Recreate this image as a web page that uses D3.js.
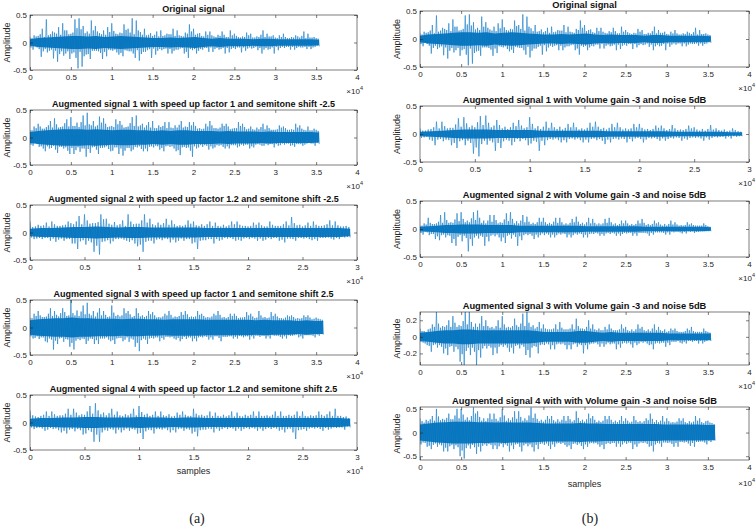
<!DOCTYPE html>
<html><head><meta charset="utf-8">
<script src="https://cdn.jsdelivr.net/npm/d3@7/dist/d3.min.js"></script>
<style>body{margin:0;background:#fff}svg{display:block}</style>
</head><body><svg id="c" width="756" height="528"></svg>
<script>
// ---------- data ----------
// Per 500-sample block: largest positive peak (Hi), largest negative peak (Lo),
// secondary positive / negative spikes (InHi / InLo); dense core half-width every 1000 samples (Core).
const STEP = 500;

const titlesA = [
  "Original signal",
  "Augmented signal 1 with speed up factor 1 and semitone shift -2.5",
  "Augmented signal 2 with speed up factor 1.2 and semitone shift -2.5",
  "Augmented signal 3 with speed up factor 1 and semitone shift 2.5",
  "Augmented signal 4  with speed up factor 1.2 and semitone shift 2.5"
];
const titlesB = [
  "Original signal",
  "Augmented signal 1 with Volume gain -3 and noise 5dB",
  "Augmented signal 2 with Volume gain -3 and noise 5dB",
  "Augmented signal 3 with Volume gain -3 and noise 5dB",
  "Augmented signal 4 with with Volume gain -3 and noise 5dB"
];
const xTicks4 = [0,0.5,1,1.5,2,2.5,3,3.5,4];   // x 10^4 samples
const xTicks3 = [0,0.5,1,1.5,2,2.5,3];
const yTicksHalf = [-0.5,0,0.5];
const yTicksSmall = [-0.2,0,0.2];
const panelLabels = ["(a)","(b)"];

const origHi = [0.10,0.13,0.12,0.25,0.42,0.15,0.18,0.28,0.35,0.22,0.16,0.42,0.44,0.30,0.20,0.40,0.30,0.17,0.22,0.28,0.35,0.16,0.18,0.33,0.25,0.44,0.40,0.19,0.25,0.14,0.12,0.20,0.22,0.13,0.15,0.25,0.22,0.12,0.18,0.33,0.25,0.16,0.12,0.20,0.20,0.11,0.14,0.20,0.10,0.22,0.16,0.10,0.11,0.18,0.16,0.09,0.10,0.22,0.16,0.11,0.09,0.13,0.16,0.08,0.10,0.13,0.09,0.20,0.16,0.09,0.08];
const origLo = [-0.13,-0.09,-0.26,-0.12,-0.15,-0.29,-0.35,-0.16,-0.20,-0.30,-0.18,-0.47,-0.44,-0.22,-0.30,-0.15,-0.16,-0.30,-0.25,-0.14,-0.13,-0.22,-0.25,-0.15,-0.16,-0.28,-0.33,-0.17,-0.14,-0.28,-0.22,-0.12,-0.12,-0.20,-0.20,-0.13,-0.11,-0.20,-0.28,-0.14,-0.20,-0.12,-0.10,-0.17,-0.17,-0.10,-0.12,-0.20,-0.18,-0.10,-0.09,-0.18,-0.15,-0.09,-0.10,-0.14,-0.20,-0.10,-0.12,-0.20,-0.14,-0.08,-0.08,-0.13,-0.13,-0.08,-0.09,-0.12,-0.12,-0.08,-0.07];
const origInHi = [0.08,0.11,0.15,0.10,0.13,0.20,0.16,0.14,0.22,0.15,0.18,0.26,0.24,0.17,0.16,0.22,0.20,0.15,0.14,0.19,0.21,0.15,0.17,0.23,0.18,0.15,0.22,0.14,0.13,0.17,0.14,0.11,0.12,0.16,0.15,0.12,0.13,0.11,0.16,0.20,0.14,0.17,0.11,0.14,0.13,0.10,0.12,0.14,0.10,0.13,0.12,0.09,0.10,0.13,0.09,0.11,0.14,0.10,0.11,0.13,0.08,0.10,0.10,0.08,0.09,0.11,0.12,0.08,0.09,0.10,0.07];
const origInLo = [-0.09,-0.07,-0.12,-0.16,-0.18,-0.13,-0.15,-0.21,-0.24,-0.16,-0.20,-0.28,-0.17,-0.25,-0.21,-0.15,-0.15,-0.19,-0.17,-0.13,-0.15,-0.18,-0.19,-0.14,-0.16,-0.20,-0.14,-0.21,-0.17,-0.12,-0.11,-0.15,-0.14,-0.11,-0.12,-0.15,-0.13,-0.10,-0.17,-0.12,-0.12,-0.15,-0.13,-0.10,-0.09,-0.12,-0.13,-0.10,-0.10,-0.12,-0.12,-0.09,-0.09,-0.11,-0.11,-0.08,-0.10,-0.13,-0.13,-0.09,-0.08,-0.10,-0.10,-0.08,-0.08,-0.10,-0.09,-0.08,-0.08,-0.09,-0.06];
const origCore = [0.06,0.08,0.09,0.10,0.11,0.12,0.12,0.11,0.12,0.10,0.11,0.12,0.11,0.10,0.09,0.08,0.08,0.09,0.08,0.09,0.10,0.08,0.07,0.08,0.07,0.07,0.07,0.06,0.07,0.07,0.06,0.06,0.06,0.06,0.06,0.05];

const a1Hi = [0.14,0.20,0.25,0.16,0.19,0.30,0.35,0.18,0.20,0.33,0.37,0.21,0.19,0.40,0.45,0.22,0.20,0.38,0.35,0.19,0.21,0.33,0.30,0.18,0.20,0.37,0.40,0.22,0.18,0.28,0.30,0.17,0.19,0.28,0.28,0.17,0.18,0.30,0.20,0.28,0.28,0.16,0.15,0.25,0.30,0.17,0.16,0.25,0.25,0.15,0.17,0.28,0.25,0.15,0.20,0.14,0.15,0.25,0.22,0.14,0.14,0.22,0.20,0.14,0.15,0.25,0.22,0.14,0.20,0.13,0.14];
const a1Lo = [-0.15,-0.12,-0.16,-0.25,-0.20,-0.15,-0.28,-0.17,-0.18,-0.30,-0.30,-0.18,-0.20,-0.35,-0.28,-0.17,-0.30,-0.19,-0.16,-0.25,-0.18,-0.30,-0.33,-0.19,-0.25,-0.17,-0.16,-0.25,-0.25,-0.16,-0.15,-0.22,-0.25,-0.15,-0.16,-0.25,-0.32,-0.17,-0.18,-0.35,-0.20,-0.14,-0.14,-0.22,-0.20,-0.14,-0.14,-0.20,-0.20,-0.14,-0.18,-0.13,-0.13,-0.20,-0.18,-0.12,-0.15,-0.12,-0.12,-0.18,-0.15,-0.11,-0.11,-0.15,-0.17,-0.12,-0.15,-0.11,-0.11,-0.15,-0.12];
const a1InHi = [0.13,0.17,0.20,0.16,0.22,0.18,0.24,0.19,0.26,0.20,0.21,0.27,0.28,0.22,0.24,0.30,0.22,0.27,0.25,0.20,0.19,0.24,0.23,0.19,0.26,0.21,0.20,0.25,0.22,0.18,0.17,0.22,0.21,0.17,0.18,0.22,0.23,0.18,0.19,0.22,0.21,0.17,0.16,0.20,0.22,0.17,0.18,0.21,0.20,0.16,0.17,0.21,0.19,0.16,0.15,0.18,0.19,0.15,0.17,0.14,0.15,0.18,0.17,0.14,0.14,0.18,0.16,0.13,0.13,0.16,0.12];
const a1InLo = [-0.13,-0.10,-0.17,-0.20,-0.16,-0.19,-0.22,-0.17,-0.20,-0.24,-0.19,-0.23,-0.26,-0.20,-0.21,-0.18,-0.22,-0.19,-0.18,-0.21,-0.24,-0.18,-0.20,-0.24,-0.19,-0.22,-0.18,-0.21,-0.20,-0.17,-0.18,-0.16,-0.19,-0.16,-0.17,-0.20,-0.23,-0.18,-0.19,-0.24,-0.16,-0.18,-0.17,-0.15,-0.16,-0.18,-0.15,-0.17,-0.16,-0.14,-0.14,-0.16,-0.15,-0.13,-0.16,-0.13,-0.13,-0.15,-0.14,-0.12,-0.12,-0.14,-0.13,-0.11,-0.14,-0.12,-0.12,-0.13,-0.10,-0.11,-0.10];
const a1Core = [0.10,0.12,0.13,0.14,0.15,0.15,0.15,0.14,0.15,0.14,0.13,0.14,0.14,0.13,0.13,0.12,0.13,0.12,0.13,0.13,0.12,0.12,0.12,0.11,0.12,0.11,0.11,0.11,0.10,0.11,0.10,0.10,0.10,0.10,0.10,0.09];

const a2Hi = [0.20,0.11,0.12,0.18,0.20,0.12,0.13,0.20,0.15,0.30,0.33,0.16,0.17,0.33,0.25,0.14,0.13,0.22,0.33,0.15,0.16,0.33,0.25,0.13,0.14,0.25,0.22,0.12,0.12,0.22,0.20,0.12,0.12,0.20,0.18,0.11,0.11,0.20,0.20,0.12,0.11,0.18,0.18,0.11,0.20,0.12,0.12,0.20,0.28,0.13,0.11,0.18,0.20,0.12,0.13,0.22,0.20,0.11,0.12];
const a2Lo = [-0.12,-0.10,-0.10,-0.15,-0.17,-0.11,-0.12,-0.20,-0.30,-0.14,-0.15,-0.35,-0.40,-0.16,-0.20,-0.12,-0.11,-0.15,-0.14,-0.25,-0.35,-0.15,-0.20,-0.12,-0.11,-0.18,-0.18,-0.11,-0.12,-0.20,-0.30,-0.14,-0.12,-0.20,-0.15,-0.10,-0.10,-0.15,-0.15,-0.10,-0.10,-0.15,-0.15,-0.10,-0.10,-0.15,-0.18,-0.11,-0.15,-0.10,-0.10,-0.14,-0.15,-0.10,-0.09,-0.13,-0.12,-0.09,-0.09];
const a2InHi = [0.10,0.14,0.13,0.11,0.15,0.12,0.14,0.17,0.20,0.15,0.22,0.17,0.19,0.24,0.16,0.19,0.15,0.12,0.20,0.16,0.22,0.18,0.15,0.18,0.17,0.14,0.15,0.13,0.14,0.16,0.13,0.15,0.15,0.12,0.12,0.14,0.13,0.15,0.14,0.12,0.12,0.14,0.13,0.11,0.14,0.12,0.15,0.13,0.17,0.14,0.13,0.12,0.14,0.12,0.15,0.13,0.13,0.11,0.10];
const a2InLo = [-0.09,-0.11,-0.12,-0.10,-0.11,-0.13,-0.15,-0.12,-0.20,-0.16,-0.22,-0.18,-0.24,-0.17,-0.14,-0.16,-0.12,-0.13,-0.17,-0.20,-0.22,-0.17,-0.15,-0.13,-0.14,-0.12,-0.13,-0.15,-0.15,-0.12,-0.18,-0.15,-0.14,-0.12,-0.12,-0.13,-0.11,-0.12,-0.13,-0.11,-0.12,-0.11,-0.11,-0.13,-0.12,-0.10,-0.13,-0.11,-0.12,-0.10,-0.11,-0.12,-0.12,-0.10,-0.10,-0.11,-0.10,-0.08,-0.08];
const a2Core = [0.07,0.08,0.08,0.09,0.10,0.10,0.11,0.10,0.09,0.10,0.10,0.09,0.09,0.09,0.09,0.09,0.08,0.08,0.08,0.08,0.08,0.08,0.08,0.08,0.08,0.08,0.08,0.08,0.08,0.07];

const a3Hi = [0.18,0.25,0.30,0.19,0.20,0.35,0.30,0.20,0.35,0.21,0.50,0.22,0.21,0.40,0.45,0.22,0.20,0.35,0.30,0.19,0.40,0.21,0.20,0.35,0.30,0.19,0.35,0.20,0.19,0.30,0.28,0.18,0.18,0.25,0.30,0.18,0.19,0.28,0.30,0.19,0.19,0.30,0.25,0.18,0.18,0.25,0.30,0.18,0.17,0.25,0.25,0.17,0.18,0.28,0.25,0.17,0.30,0.18,0.17,0.28,0.25,0.17,0.16,0.22,0.22,0.16,0.16,0.22,0.22,0.15,0.18,0.15];
const a3Lo = [-0.20,-0.16,-0.18,-0.25,-0.20,-0.40,-0.30,-0.19,-0.21,-0.35,-0.40,-0.21,-0.20,-0.30,-0.20,-0.30,-0.30,-0.20,-0.18,-0.25,-0.30,-0.19,-0.25,-0.18,-0.20,-0.35,-0.43,-0.20,-0.30,-0.19,-0.18,-0.25,-0.22,-0.17,-0.17,-0.22,-0.25,-0.17,-0.18,-0.25,-0.25,-0.17,-0.16,-0.22,-0.22,-0.16,-0.25,-0.17,-0.16,-0.20,-0.20,-0.16,-0.16,-0.22,-0.20,-0.15,-0.15,-0.20,-0.20,-0.15,-0.15,-0.20,-0.20,-0.15,-0.14,-0.18,-0.20,-0.14,-0.14,-0.18,-0.15,-0.13];
const a3InHi = [0.17,0.21,0.22,0.19,0.25,0.21,0.23,0.26,0.28,0.22,0.26,0.31,0.29,0.24,0.25,0.30,0.27,0.22,0.23,0.20,0.27,0.23,0.22,0.26,0.24,0.21,0.26,0.22,0.21,0.24,0.22,0.19,0.20,0.22,0.23,0.20,0.21,0.23,0.24,0.20,0.20,0.23,0.21,0.19,0.20,0.22,0.23,0.19,0.19,0.21,0.21,0.18,0.19,0.22,0.20,0.18,0.22,0.19,0.18,0.21,0.20,0.17,0.18,0.20,0.19,0.17,0.17,0.19,0.18,0.16,0.16,0.14];
const a3InLo = [-0.16,-0.19,-0.21,-0.18,-0.27,-0.22,-0.24,-0.20,-0.26,-0.22,-0.28,-0.24,-0.23,-0.21,-0.24,-0.21,-0.23,-0.20,-0.20,-0.22,-0.23,-0.20,-0.19,-0.22,-0.26,-0.22,-0.28,-0.23,-0.22,-0.20,-0.20,-0.18,-0.19,-0.17,-0.18,-0.20,-0.19,-0.21,-0.21,-0.18,-0.20,-0.18,-0.18,-0.17,-0.18,-0.16,-0.19,-0.17,-0.17,-0.16,-0.17,-0.15,-0.18,-0.16,-0.16,-0.15,-0.17,-0.15,-0.16,-0.14,-0.15,-0.17,-0.16,-0.14,-0.15,-0.13,-0.16,-0.14,-0.14,-0.15,-0.13,-0.12];
const a3Core = [0.13,0.15,0.16,0.17,0.17,0.18,0.17,0.17,0.16,0.16,0.16,0.15,0.16,0.16,0.15,0.15,0.14,0.15,0.15,0.15,0.15,0.14,0.14,0.14,0.14,0.14,0.14,0.13,0.14,0.13,0.13,0.13,0.12,0.13,0.12,0.12];

const a4Hi = [0.22,0.11,0.12,0.20,0.20,0.12,0.13,0.25,0.25,0.13,0.14,0.30,0.35,0.15,0.13,0.25,0.20,0.12,0.13,0.25,0.30,0.14,0.12,0.20,0.20,0.12,0.11,0.18,0.20,0.12,0.25,0.13,0.12,0.20,0.18,0.11,0.11,0.20,0.18,0.11,0.12,0.20,0.20,0.12,0.11,0.20,0.20,0.12,0.12,0.20,0.20,0.11,0.12,0.20,0.12,0.20,0.25,0.12,0.11];
const a4Lo = [-0.12,-0.09,-0.15,-0.10,-0.11,-0.18,-0.20,-0.12,-0.12,-0.22,-0.14,-0.35,-0.35,-0.14,-0.12,-0.20,-0.18,-0.11,-0.12,-0.20,-0.30,-0.13,-0.20,-0.12,-0.11,-0.18,-0.18,-0.11,-0.12,-0.20,-0.25,-0.13,-0.11,-0.18,-0.15,-0.10,-0.10,-0.15,-0.15,-0.10,-0.10,-0.15,-0.15,-0.10,-0.10,-0.15,-0.18,-0.11,-0.30,-0.13,-0.15,-0.10,-0.10,-0.15,-0.13,-0.09,-0.09,-0.13,-0.09];
const a4InHi = [0.13,0.10,0.14,0.12,0.15,0.13,0.16,0.14,0.18,0.15,0.20,0.16,0.22,0.18,0.17,0.14,0.13,0.15,0.16,0.13,0.19,0.16,0.14,0.12,0.13,0.15,0.12,0.14,0.14,0.12,0.16,0.14,0.13,0.12,0.12,0.14,0.13,0.11,0.12,0.14,0.14,0.12,0.12,0.13,0.14,0.12,0.12,0.14,0.14,0.12,0.12,0.13,0.13,0.14,0.15,0.12,0.12,0.10,0.08];
const a4InLo = [-0.09,-0.10,-0.11,-0.13,-0.12,-0.14,-0.15,-0.13,-0.16,-0.14,-0.20,-0.17,-0.22,-0.18,-0.15,-0.13,-0.13,-0.14,-0.15,-0.13,-0.19,-0.16,-0.14,-0.12,-0.13,-0.14,-0.14,-0.12,-0.15,-0.13,-0.17,-0.14,-0.13,-0.12,-0.11,-0.12,-0.12,-0.11,-0.11,-0.12,-0.12,-0.11,-0.11,-0.12,-0.12,-0.11,-0.13,-0.12,-0.18,-0.14,-0.12,-0.11,-0.11,-0.12,-0.10,-0.11,-0.10,-0.09,-0.07];
const a4Core = [0.07,0.08,0.08,0.09,0.09,0.10,0.10,0.09,0.09,0.09,0.10,0.09,0.09,0.08,0.09,0.09,0.08,0.08,0.08,0.08,0.08,0.08,0.08,0.08,0.08,0.08,0.08,0.08,0.08,0.07];

const b1Hi = [0.10,0.06,0.09,0.22,0.22,0.10,0.11,0.28,0.30,0.12,0.12,0.32,0.33,0.12,0.25,0.10,0.09,0.20,0.25,0.10,0.30,0.10,0.09,0.22,0.20,0.09,0.08,0.18,0.20,0.08,0.08,0.20,0.22,0.09,0.08,0.18,0.20,0.08,0.08,0.18,0.18,0.08,0.07,0.15,0.15,0.07,0.16,0.07,0.07,0.15,0.12,0.06,0.06,0.16,0.10,0.06,0.05,0.10,0.05];
const b1Lo = [-0.06,-0.10,-0.20,-0.09,-0.10,-0.20,-0.25,-0.11,-0.12,-0.35,-0.40,-0.12,-0.12,-0.30,-0.25,-0.10,-0.20,-0.09,-0.09,-0.20,-0.12,-0.30,-0.20,-0.09,-0.08,-0.15,-0.15,-0.08,-0.08,-0.15,-0.15,-0.08,-0.09,-0.18,-0.15,-0.08,-0.08,-0.15,-0.13,-0.07,-0.15,-0.07,-0.07,-0.12,-0.12,-0.07,-0.06,-0.12,-0.10,-0.06,-0.06,-0.12,-0.10,-0.05,-0.05,-0.08,-0.08,-0.05,-0.04];
const b1InHi = [0.06,0.08,0.12,0.10,0.14,0.11,0.17,0.13,0.19,0.15,0.21,0.16,0.20,0.15,0.16,0.13,0.12,0.14,0.15,0.12,0.18,0.14,0.13,0.11,0.12,0.13,0.11,0.12,0.12,0.10,0.11,0.13,0.13,0.11,0.11,0.12,0.12,0.10,0.10,0.12,0.11,0.09,0.09,0.11,0.10,0.09,0.10,0.08,0.09,0.10,0.08,0.09,0.09,0.08,0.07,0.08,0.06,0.07,0.04];
const b1InLo = [-0.07,-0.05,-0.12,-0.10,-0.13,-0.11,-0.16,-0.13,-0.20,-0.16,-0.24,-0.18,-0.19,-0.15,-0.16,-0.13,-0.12,-0.14,-0.13,-0.11,-0.17,-0.14,-0.12,-0.11,-0.10,-0.11,-0.11,-0.09,-0.10,-0.11,-0.10,-0.09,-0.11,-0.12,-0.10,-0.09,-0.10,-0.09,-0.09,-0.08,-0.09,-0.10,-0.08,-0.09,-0.08,-0.09,-0.08,-0.07,-0.08,-0.07,-0.07,-0.08,-0.06,-0.07,-0.06,-0.05,-0.05,-0.04,-0.04];
const b1Core = [0.04,0.05,0.06,0.07,0.08,0.08,0.08,0.07,0.07,0.07,0.07,0.06,0.06,0.06,0.06,0.06,0.06,0.05,0.05,0.05,0.05,0.05,0.05,0.04,0.04,0.04,0.04,0.04,0.03,0.03];

const b2Hi = [0.06,0.10,0.20,0.09,0.10,0.25,0.30,0.11,0.11,0.28,0.30,0.12,0.12,0.30,0.33,0.11,0.10,0.25,0.25,0.10,0.11,0.28,0.30,0.10,0.10,0.25,0.22,0.09,0.09,0.20,0.20,0.09,0.09,0.20,0.20,0.08,0.08,0.18,0.22,0.09,0.08,0.20,0.18,0.08,0.08,0.18,0.20,0.08,0.07,0.15,0.15,0.07,0.07,0.15,0.18,0.07,0.07,0.15,0.12,0.06,0.06,0.15,0.12,0.06,0.06,0.12,0.10,0.06,0.06,0.10,0.05];
const b2Lo = [-0.10,-0.06,-0.09,-0.18,-0.20,-0.10,-0.11,-0.25,-0.30,-0.11,-0.12,-0.40,-0.30,-0.12,-0.12,-0.30,-0.22,-0.10,-0.10,-0.22,-0.25,-0.10,-0.10,-0.30,-0.20,-0.09,-0.09,-0.18,-0.15,-0.08,-0.08,-0.15,-0.15,-0.08,-0.08,-0.15,-0.15,-0.08,-0.08,-0.15,-0.15,-0.08,-0.07,-0.12,-0.12,-0.07,-0.07,-0.12,-0.12,-0.07,-0.07,-0.12,-0.12,-0.07,-0.07,-0.12,-0.10,-0.06,-0.06,-0.10,-0.10,-0.06,-0.05,-0.08,-0.08,-0.05,-0.07,-0.05,-0.04,-0.04,-0.04];
const b2InHi = [0.06,0.08,0.11,0.09,0.13,0.11,0.16,0.12,0.17,0.14,0.18,0.15,0.19,0.16,0.20,0.15,0.15,0.13,0.16,0.12,0.17,0.14,0.18,0.14,0.15,0.12,0.13,0.11,0.12,0.13,0.12,0.11,0.13,0.11,0.12,0.10,0.11,0.12,0.13,0.11,0.12,0.10,0.11,0.10,0.10,0.11,0.12,0.10,0.09,0.10,0.10,0.09,0.09,0.10,0.11,0.09,0.09,0.10,0.08,0.09,0.09,0.08,0.08,0.07,0.07,0.08,0.07,0.06,0.06,0.07,0.04];
const b2InLo = [-0.07,-0.05,-0.11,-0.09,-0.13,-0.11,-0.15,-0.12,-0.18,-0.14,-0.22,-0.16,-0.18,-0.15,-0.17,-0.14,-0.14,-0.12,-0.13,-0.15,-0.15,-0.12,-0.17,-0.14,-0.13,-0.11,-0.11,-0.12,-0.10,-0.11,-0.11,-0.10,-0.10,-0.11,-0.10,-0.09,-0.10,-0.11,-0.10,-0.09,-0.10,-0.09,-0.09,-0.08,-0.09,-0.08,-0.09,-0.08,-0.08,-0.09,-0.08,-0.07,-0.08,-0.07,-0.07,-0.08,-0.07,-0.06,-0.06,-0.07,-0.06,-0.05,-0.05,-0.06,-0.05,-0.04,-0.04,-0.05,-0.04,-0.04,-0.04];
const b2Core = [0.04,0.05,0.06,0.07,0.07,0.08,0.08,0.08,0.07,0.07,0.07,0.07,0.06,0.06,0.06,0.06,0.06,0.06,0.06,0.06,0.05,0.05,0.05,0.05,0.05,0.05,0.05,0.04,0.04,0.04,0.04,0.04,0.04,0.04,0.04,0.03];

const b3Hi = [0.10,0.07,0.09,0.15,0.30,0.11,0.12,0.20,0.25,0.12,0.13,0.30,0.30,0.12,0.12,0.25,0.20,0.11,0.10,0.20,0.25,0.11,0.11,0.22,0.12,0.28,0.30,0.12,0.10,0.18,0.15,0.09,0.09,0.15,0.18,0.09,0.09,0.15,0.22,0.10,0.09,0.20,0.15,0.08,0.08,0.12,0.15,0.08,0.08,0.15,0.12,0.07,0.07,0.15,0.12,0.07,0.07,0.15,0.12,0.07,0.06,0.10,0.10,0.06,0.06,0.10,0.12,0.06,0.06,0.10,0.06];
const b3Lo = [-0.07,-0.10,-0.18,-0.09,-0.10,-0.20,-0.22,-0.11,-0.12,-0.30,-0.34,-0.13,-0.13,-0.34,-0.25,-0.11,-0.11,-0.22,-0.20,-0.10,-0.10,-0.18,-0.20,-0.10,-0.10,-0.22,-0.25,-0.11,-0.20,-0.09,-0.08,-0.15,-0.15,-0.08,-0.08,-0.15,-0.15,-0.08,-0.09,-0.20,-0.15,-0.08,-0.07,-0.12,-0.12,-0.07,-0.08,-0.15,-0.13,-0.07,-0.07,-0.13,-0.10,-0.06,-0.06,-0.10,-0.15,-0.07,-0.07,-0.12,-0.10,-0.06,-0.05,-0.08,-0.08,-0.05,-0.05,-0.08,-0.08,-0.05,-0.05];
const b3InHi = [0.07,0.06,0.10,0.12,0.16,0.13,0.14,0.12,0.17,0.14,0.19,0.15,0.18,0.16,0.16,0.13,0.13,0.12,0.13,0.11,0.15,0.12,0.13,0.14,0.16,0.13,0.17,0.14,0.12,0.10,0.10,0.09,0.10,0.09,0.11,0.09,0.10,0.09,0.13,0.10,0.12,0.10,0.09,0.10,0.08,0.09,0.10,0.08,0.09,0.10,0.08,0.09,0.09,0.10,0.08,0.09,0.10,0.08,0.08,0.09,0.07,0.08,0.07,0.06,0.07,0.08,0.07,0.06,0.06,0.07,0.05];
const b3InLo = [-0.06,-0.08,-0.11,-0.10,-0.13,-0.12,-0.14,-0.12,-0.18,-0.15,-0.21,-0.17,-0.22,-0.18,-0.16,-0.14,-0.14,-0.13,-0.13,-0.12,-0.12,-0.13,-0.13,-0.11,-0.14,-0.12,-0.16,-0.13,-0.12,-0.10,-0.10,-0.09,-0.10,-0.09,-0.09,-0.10,-0.10,-0.09,-0.12,-0.10,-0.10,-0.09,-0.08,-0.09,-0.08,-0.09,-0.09,-0.08,-0.09,-0.08,-0.08,-0.09,-0.07,-0.08,-0.07,-0.08,-0.09,-0.08,-0.08,-0.07,-0.07,-0.06,-0.06,-0.07,-0.06,-0.05,-0.06,-0.05,-0.05,-0.06,-0.04];
const b3Core = [0.05,0.06,0.07,0.08,0.08,0.09,0.09,0.08,0.08,0.08,0.08,0.08,0.08,0.08,0.07,0.06,0.06,0.06,0.06,0.07,0.07,0.06,0.05,0.06,0.05,0.05,0.05,0.05,0.05,0.05,0.04,0.04,0.04,0.04,0.04,0.04];

const b4Hi = [0.30,0.21,0.24,0.35,0.50,0.26,0.27,0.40,0.28,0.50,0.50,0.27,0.26,0.53,0.45,0.25,0.24,0.40,0.40,0.25,0.50,0.25,0.26,0.45,0.45,0.25,0.26,0.53,0.40,0.24,0.23,0.35,0.35,0.23,0.23,0.35,0.35,0.23,0.45,0.24,0.23,0.40,0.35,0.22,0.22,0.35,0.35,0.22,0.22,0.35,0.30,0.21,0.35,0.22,0.21,0.30,0.40,0.22,0.22,0.35,0.30,0.21,0.21,0.30,0.30,0.20,0.21,0.35,0.30,0.20,0.25,0.20];
const b4Lo = [-0.21,-0.30,-0.35,-0.23,-0.25,-0.40,-0.40,-0.26,-0.27,-0.50,-0.55,-0.27,-0.26,-0.45,-0.40,-0.25,-0.24,-0.35,-0.35,-0.24,-0.25,-0.40,-0.35,-0.24,-0.40,-0.24,-0.25,-0.40,-0.35,-0.23,-0.23,-0.35,-0.30,-0.22,-0.22,-0.30,-0.35,-0.23,-0.23,-0.35,-0.30,-0.22,-0.22,-0.30,-0.35,-0.22,-0.22,-0.30,-0.30,-0.21,-0.21,-0.35,-0.30,-0.21,-0.21,-0.30,-0.40,-0.22,-0.30,-0.21,-0.21,-0.30,-0.30,-0.20,-0.20,-0.28,-0.30,-0.20,-0.19,-0.25,-0.20,-0.17];
const b4InHi = [0.24,0.27,0.28,0.25,0.34,0.29,0.31,0.28,0.36,0.30,0.38,0.32,0.35,0.40,0.33,0.30,0.30,0.28,0.29,0.32,0.36,0.30,0.32,0.29,0.33,0.30,0.36,0.31,0.29,0.27,0.27,0.29,0.26,0.28,0.27,0.25,0.28,0.26,0.31,0.27,0.28,0.30,0.27,0.25,0.25,0.28,0.27,0.25,0.26,0.24,0.25,0.23,0.26,0.24,0.24,0.26,0.29,0.26,0.25,0.23,0.24,0.22,0.23,0.25,0.22,0.24,0.23,0.25,0.22,0.24,0.21,0.18];
const b4InLo = [-0.25,-0.22,-0.28,-0.26,-0.30,-0.27,-0.32,-0.29,-0.35,-0.31,-0.38,-0.33,-0.34,-0.31,-0.30,-0.28,-0.28,-0.26,-0.27,-0.29,-0.31,-0.28,-0.27,-0.25,-0.30,-0.27,-0.29,-0.31,-0.26,-0.24,-0.26,-0.28,-0.25,-0.23,-0.24,-0.26,-0.27,-0.24,-0.26,-0.28,-0.25,-0.23,-0.23,-0.25,-0.26,-0.24,-0.24,-0.22,-0.23,-0.25,-0.24,-0.22,-0.25,-0.23,-0.22,-0.24,-0.28,-0.25,-0.23,-0.21,-0.22,-0.24,-0.22,-0.20,-0.21,-0.23,-0.22,-0.20,-0.19,-0.21,-0.18,-0.16];
const b4Core = [0.17,0.19,0.21,0.22,0.23,0.23,0.23,0.22,0.22,0.21,0.22,0.21,0.21,0.21,0.20,0.19,0.19,0.19,0.19,0.20,0.19,0.19,0.18,0.18,0.18,0.18,0.18,0.18,0.18,0.17,0.17,0.17,0.17,0.17,0.16,0.16];

// ---------- layout ----------
const BLUE = "#0072BD", SPIKE = "#2a86cc", AX = "#262626";
const svg = d3.select("#c");
const defs = svg.append("defs");

const orig = {hi:origHi, lo:origLo, ih:origInHi, il:origInLo, core:origCore};
const panels = [
  {t:titlesA[0], s:orig, xt:xTicks4, yd:[-0.5,0.5], yt:yTicksHalf, b:[30,15,357,70]},
  {t:titlesA[1], s:{hi:a1Hi, lo:a1Lo, ih:a1InHi, il:a1InLo, core:a1Core}, xt:xTicks4, yd:[-0.5,0.5], yt:yTicksHalf, b:[30,110,357,165]},
  {t:titlesA[2], s:{hi:a2Hi, lo:a2Lo, ih:a2InHi, il:a2InLo, core:a2Core}, xt:xTicks3, yd:[-0.5,0.5], yt:yTicksHalf, b:[30,205,357,260]},
  {t:titlesA[3], s:{hi:a3Hi, lo:a3Lo, ih:a3InHi, il:a3InLo, core:a3Core}, xt:xTicks4, yd:[-0.5,0.5], yt:yTicksHalf, b:[30,300,357,355]},
  {t:titlesA[4], s:{hi:a4Hi, lo:a4Lo, ih:a4InHi, il:a4InLo, core:a4Core}, xt:xTicks3, yd:[-0.5,0.5], yt:yTicksHalf, b:[30,395,357,450], xl:"samples"},
  {t:titlesB[0], s:orig, xt:xTicks4, yd:[-0.5,0.5], yt:yTicksHalf, b:[420,11,749,67], r:1},
  {t:titlesB[1], s:{hi:b1Hi, lo:b1Lo, ih:b1InHi, il:b1InLo, core:b1Core}, xt:xTicks3, yd:[-0.5,0.5], yt:yTicksHalf, b:[420,106,749,162], r:1},
  {t:titlesB[2], s:{hi:b2Hi, lo:b2Lo, ih:b2InHi, il:b2InLo, core:b2Core}, xt:xTicks4, yd:[-0.5,0.5], yt:yTicksHalf, b:[420,201,749,257], r:1},
  {t:titlesB[3], s:{hi:b3Hi, lo:b3Lo, ih:b3InHi, il:b3InLo, core:b3Core}, xt:xTicks4, yd:[-0.34,0.3], yt:yTicksSmall, b:[420,312,749,365], r:1},
  {t:titlesB[4], s:{hi:b4Hi, lo:b4Lo, ih:b4InHi, il:b4InLo, core:b4Core}, xt:xTicks4, yd:[-0.58,0.54], yt:yTicksHalf, b:[420,407,749,460], r:1, xl:"samples"}
];

const FONT = "'Liberation Sans', Arial, Helvetica, sans-serif";

panels.forEach((p, idx) => {
  const [x0,y0,x1,y1] = p.b;
  const s = p.s;
  const xMax = p.xt[p.xt.length-1]*1e4;
  const x = d3.scaleLinear().domain([0,xMax]).range([x0,x1]);
  const y = d3.scaleLinear().domain(p.yd).range([y1,y0]);
  const g = svg.append("g");

  defs.append("clipPath").attr("id","cp"+idx).append("rect")
    .attr("x",x0).attr("y",y0).attr("width",x1-x0).attr("height",y1-y0);
  const dg = g.append("g").attr("clip-path","url(#cp"+idx+")");

  // waveform samples: within each 500-sample block -> peak+, inner-, inner+, peak-
  const pts = [];
  s.hi.forEach((v,i)=>{
    const bs = i*STEP;
    pts.push([bs, v]);
    if (s.il[i] !== undefined) pts.push([bs+STEP*0.25, s.il[i]]);
    if (s.ih[i] !== undefined) pts.push([bs+STEP*0.5, s.ih[i]]);
    if (s.lo[i] !== undefined) pts.push([bs+STEP*0.75, s.lo[i]]);
  });
  const endS = pts[pts.length-1][0];
  const n = s.core.length;
  const corePts = s.core.map((v,i)=>[i*endS/(n-1), v]);
  dg.append("path")
    .attr("d", d3.line().x(d=>x(d[0])).y(d=>y(d[1]))(pts))
    .attr("fill","none").attr("stroke",SPIKE).attr("stroke-width",0.7).attr("stroke-linejoin","round");
  dg.append("path")
    .attr("d", d3.area().x(d=>x(d[0])).y0(d=>y(-d[1])).y1(d=>y(d[1]))(corePts))
    .attr("fill", BLUE).attr("fill-opacity",0.92);

  const xv = p.xt.map(v=>v*1e4);
  const gb = g.append("g").attr("transform",`translate(0,${y1})`)
    .call(d3.axisBottom(x).tickValues(xv).tickSizeInner(-3).tickSizeOuter(0).tickPadding(4.8).tickFormat(d=>String(d/1e4)));
  const gt = g.append("g").attr("transform",`translate(0,${y0})`)
    .call(d3.axisTop(x).tickValues(xv).tickSizeInner(-3).tickSizeOuter(0).tickFormat(""));
  const gl = g.append("g").attr("transform",`translate(${x0},0)`)
    .call(d3.axisLeft(y).tickValues(p.yt).tickSizeInner(-3).tickSizeOuter(0).tickPadding(3).tickFormat(d=>String(d)));
  const gr = g.append("g").attr("transform",`translate(${x1},0)`)
    .call(d3.axisRight(y).tickValues(p.yt).tickSizeInner(-3).tickSizeOuter(0).tickFormat(""));
  [gb,gt,gl,gr].forEach(a=>{
    a.select(".domain").remove();
    a.selectAll("line").attr("stroke",AX).attr("stroke-width",0.6);
    a.selectAll("text").attr("fill",AX).style("font-family",FONT).style("font-size","8px");
  });

  g.append("rect").attr("x",x0).attr("y",y0).attr("width",x1-x0).attr("height",y1-y0)
    .attr("fill","none").attr("stroke",AX).attr("stroke-width",0.6);

  g.append("text").attr("x",(x0+x1)/2).attr("y", y0 - (p.r ? 3 : 3.5))
    .attr("text-anchor","middle").style("font-family",FONT).style("font-size", p.r ? "9.3px" : "9px")
    .style("font-weight","bold").attr("fill","#111").text(p.t);

  const lx = p.r ? 399.5 : 9.5;
  g.append("text").attr("transform",`translate(${lx},${(y0+y1)/2}) rotate(-90)`)
    .attr("text-anchor","middle").style("font-family",FONT).style("font-size","9px")
    .attr("fill",AX).text("Amplitude");

  const ex = g.append("text").attr("x", x1+6).attr("y", y1 + (p.xl && p.r ? 26 : 23.5))
    .attr("text-anchor","end").style("font-family",FONT).style("font-size","8px").attr("fill",AX);
  ex.append("tspan").text("\u00d710");
  ex.append("tspan").attr("dy",-4).style("font-size","5.5px").text("4");

  if (p.xl) {
    g.append("text").attr("x",(x0+x1)/2).attr("y", y1 + (p.r ? 26.5 : 24))
      .attr("text-anchor","middle").style("font-family",FONT).style("font-size","9px")
      .attr("fill",AX).text(p.xl);
  }
});

[[197, panelLabels[0]],[590, panelLabels[1]]].forEach(([cx,t])=>{
  svg.append("text").attr("x",cx).attr("y",523).attr("text-anchor","middle")
    .style("font-family","'Liberation Serif', 'Times New Roman', serif").style("font-size","14px")
    .attr("fill","#222").text(t);
});
</script>
</body></html>
